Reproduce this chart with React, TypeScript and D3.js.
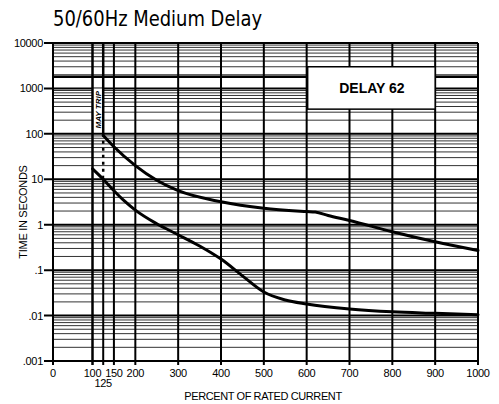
import React, { useEffect, useRef } from 'react';
import * as d3 from 'd3';

// Axis ticks
const xTicks = [0, 100, 125, 150, 200, 300, 400, 500, 600, 700, 800, 900, 1000];
const yTicks = [0.001, 0.01, 0.1, 1, 10, 100, 1000, 10000];
const yTickLabels = ['.001', '.01', '.1', '1', '10', '100', '1000', '10000'];

// Lower (minimum clearing) curve, percent of rated current vs seconds
const lowerX = [100, 125, 150, 175, 200, 250, 300, 350, 400, 450, 500, 550, 600, 700, 800, 900, 1000];
const lowerT = [17, 10, 5.6, 3.3, 2.1, 1.05, 0.6, 0.34, 0.175, 0.075, 0.033, 0.022, 0.018, 0.014, 0.0121, 0.0112, 0.0104];

// Upper (maximum) curve
const upperX = [125, 150, 200, 250, 300, 400, 500, 600, 620, 650, 700, 800, 900, 1000];
const upperT = [92, 52, 20, 9.5, 5.6, 3.2, 2.3, 1.95, 1.9, 1.6, 1.24, 0.7, 0.42, 0.27];

const heavyLineT = 1800;

const W = 499;
const H = 404;

export default function App() {
  const svgRef = useRef<SVGSVGElement>(null);

  useEffect(() => {
    if (!svgRef.current) return;
    const svg = d3.select(svgRef.current);
    svg.selectAll('*').remove();

    const x = d3.scaleLinear().domain([0, 100, 1000]).range([53, 92.5, 478]);
    const y = d3.scaleLog().domain([0.001, 10000]).range([361, 43]);
    const x0 = x(0), x1 = x(1000), yTop = y(10000), yBot = y(0.001);
    const font = '"Liberation Sans", Arial, sans-serif';

    // Title
    svg.append('text')
      .attr('x', 53)
      .attr('y', 26)
      .attr('textLength', 209)
      .attr('lengthAdjust', 'spacingAndGlyphs')
      .style('font-family', '"Liberation Sans Narrow", "DejaVu Sans Condensed", Arial, sans-serif')
      .style('font-size', '22px')
      .style('fill', '#000')
      .text('50/60Hz Medium Delay');

    // Minor horizontal grid (2..9 in each decade)
    const minor: number[] = [];
    for (let d = 0.001; d < 9999; d *= 10) {
      for (let k = 2; k <= 9; k++) minor.push(+(k * d).toPrecision(3));
    }
    svg.append('g').selectAll('line')
      .data(minor)
      .enter().append('line')
      .attr('x1', x0).attr('x2', x1)
      .attr('y1', d => y(d)).attr('y2', d => y(d))
      .attr('stroke', '#333')
      .attr('stroke-width', 1);

    // Decade lines + y ticks
    svg.append('g').selectAll('line')
      .data(yTicks)
      .enter().append('line')
      .attr('x1', x0 - 9).attr('x2', x1)
      .attr('y1', d => y(d)).attr('y2', d => y(d))
      .attr('stroke', '#000')
      .attr('stroke-width', 2);

    // Heavy line near 30 min
    svg.append('line')
      .attr('x1', x0).attr('x2', x1)
      .attr('y1', y(heavyLineT)).attr('y2', y(heavyLineT))
      .attr('stroke', '#000')
      .attr('stroke-width', 2.5);

    // MAY TRIP band
    svg.append('rect')
      .attr('x', x(100)).attr('width', x(125) - x(100))
      .attr('y', y(1000)).attr('height', y(115) - y(1000))
      .attr('fill', '#fff');

    // Vertical grid lines + x ticks
    const vx = xTicks.filter(v => v !== 125);
    svg.append('g').selectAll('line')
      .data(vx)
      .enter().append('line')
      .attr('x1', d => x(d)).attr('x2', d => x(d))
      .attr('y1', yTop).attr('y2', yBot + 4)
      .attr('stroke', '#000')
      .attr('stroke-width', d => (d === 100 ? 2.5 : 2));

    // 125 line: solid, dotted segment, solid
    const x125 = x(125);
    svg.append('line')
      .attr('x1', x125).attr('x2', x125)
      .attr('y1', yTop).attr('y2', y(100))
      .attr('stroke', '#000').attr('stroke-width', 2.5);
    svg.append('line')
      .attr('x1', x125).attr('x2', x125)
      .attr('y1', y(100)).attr('y2', y(12))
      .attr('stroke', '#000').attr('stroke-width', 2.5)
      .attr('stroke-dasharray', '3,4');
    svg.append('line')
      .attr('x1', x125).attr('x2', x125)
      .attr('y1', y(12)).attr('y2', yBot + 4)
      .attr('stroke', '#000').attr('stroke-width', 2);

    // MAY TRIP label
    const mtY = (y(1000) + y(115)) / 2;
    svg.append('text')
      .attr('transform', `translate(${(x(100) + x125) / 2 + 3},${mtY}) rotate(-90)`)
      .attr('text-anchor', 'middle')
      .style('font-family', font)
      .style('font-size', '8px')
      .style('font-weight', 'bold')
      .style('font-style', 'italic')
      .text('MAY TRIP');

    // Curves
    const line = d3.line<[number, number]>()
      .x(d => x(d[0]))
      .y(d => y(d[1]))
      .curve(d3.curveMonotoneX);

    const lowerData = lowerX.map((v, i) => [v, lowerT[i]] as [number, number]);
    const upperData = upperX.map((v, i) => [v, upperT[i]] as [number, number]);

    [lowerData, upperData].forEach(data => {
      svg.append('path')
        .datum(data)
        .attr('d', line)
        .attr('fill', 'none')
        .attr('stroke', '#000')
        .attr('stroke-width', 3)
        .attr('stroke-linecap', 'round');
    });

    // DELAY 62 box
    svg.append('rect')
      .attr('x', x(600) + 1).attr('width', x(900) - x(600) - 1)
      .attr('y', y(3000)).attr('height', y(350) - y(3000))
      .attr('fill', '#fff')
      .attr('stroke', '#000')
      .attr('stroke-width', 1.5);
    svg.append('text')
      .attr('x', (x(600) + x(900)) / 2 + 1)
      .attr('y', (y(3000) + y(350)) / 2 + 5)
      .attr('text-anchor', 'middle')
      .style('font-family', font)
      .style('font-size', '14px')
      .style('font-weight', 'bold')
      .text('DELAY 62');

    // Y tick labels
    svg.append('g').selectAll('text')
      .data(yTicks)
      .enter().append('text')
      .attr('x', 43)
      .attr('y', d => y(d) + 4)
      .attr('text-anchor', 'end')
      .style('font-family', font)
      .style('font-size', '11px')
      .style('letter-spacing', '-0.3px')
      .text((d, i) => yTickLabels[i]);

    // X tick labels
    svg.append('g').selectAll('text')
      .data(xTicks)
      .enter().append('text')
      .attr('x', d => x(d))
      .attr('y', d => (d === 125 ? 387 : 377))
      .attr('text-anchor', 'middle')
      .style('font-family', font)
      .style('font-size', '11px')
      .style('letter-spacing', '-0.3px')
      .text(d => String(d));

    // Axis titles
    svg.append('text')
      .attr('x', 263)
      .attr('y', 400)
      .attr('text-anchor', 'middle')
      .style('font-family', font)
      .style('font-size', '11px')
      .style('letter-spacing', '-0.4px')
      .text('PERCENT OF RATED CURRENT');

    svg.append('text')
      .attr('transform', `translate(27,212) rotate(-90)`)
      .attr('text-anchor', 'middle')
      .style('font-family', font)
      .style('font-size', '11px')
      .style('letter-spacing', '-0.3px')
      .text('TIME IN SECONDS');
  }, []);

  return (
    <svg
      ref={svgRef}
      width={W}
      height={H}
      style={{ position: 'absolute', left: 0, top: 0, background: '#fff' }}
    />
  );
}
